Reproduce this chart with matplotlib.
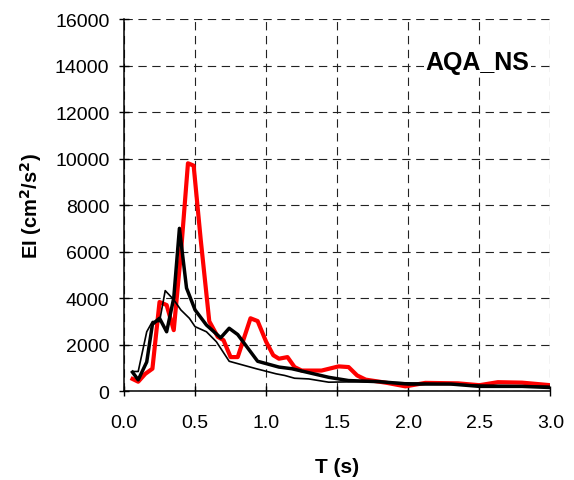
import matplotlib
matplotlib.use("Agg")
import matplotlib.pyplot as plt

plt.rcParams['font.family'] = ['Liberation Sans', 'DejaVu Sans']

# Red record
t_red = [0.06, 0.10, 0.15, 0.20, 0.25, 0.30, 0.35, 0.40, 0.45, 0.49, 0.54, 0.60, 0.66,
         0.70, 0.75, 0.80, 0.89, 0.94, 1.00, 1.05, 1.09, 1.15, 1.20, 1.25, 1.39, 1.51,
         1.58, 1.64, 1.70, 1.85, 1.98, 2.12, 2.35, 2.50, 2.63, 2.80, 3.00]
ei_red = [520, 400, 740, 960, 3830, 3700, 2620, 5900, 9800, 9700, 6500, 3000, 2330,
          2190, 1460, 1460, 3130, 3010, 2120, 1540, 1390, 1460, 1030, 880, 880, 1060,
          1030, 670, 490, 350, 200, 350, 330, 250, 380, 360, 250]

# Black thick record
t_thick = [0.06, 0.10, 0.16, 0.20, 0.25, 0.30, 0.35, 0.39, 0.44, 0.50, 0.58, 0.68,
           0.74, 0.80, 0.94, 1.09, 1.18, 1.44, 1.58, 1.80, 2.00, 2.30, 2.50, 2.80, 3.00]
ei_thick = [810, 480, 1250, 2870, 3130, 2550, 4000, 7000, 4430, 3490, 2840, 2290,
            2700, 2430, 1280, 1030, 960, 590, 450, 400, 300, 300, 200, 200, 150]

# Black thin record
t_thin = [0.06, 0.10, 0.16, 0.20, 0.25, 0.29, 0.35, 0.40, 0.46, 0.50, 0.58, 0.65,
          0.74, 0.93, 1.07, 1.13, 1.20, 1.30, 1.44, 1.65, 2.00, 2.50, 3.00]
ei_thin = [840, 840, 2550, 2990, 2990, 4320, 3930, 3490, 3130, 2770, 2550, 2120,
           1280, 960, 740, 670, 550, 520, 380, 400, 350, 250, 200]

fig = plt.figure(figsize=(5.74, 4.81), dpi=100)
ax = fig.add_axes([0.216, 0.185, 0.743, 0.773])

ax.plot(t_red, ei_red, color='#ff0000', lw=3.0, zorder=3)
ax.plot(t_thin, ei_thin, color='black', lw=1.2, zorder=4)
ax.plot(t_thick, ei_thick, color='black', lw=2.5, zorder=5)

ax.set_xlim(0, 3.0)
ax.set_ylim(0, 16000)
ax.set_xticks([0.0, 0.5, 1.0, 1.5, 2.0, 2.5, 3.0])
ax.set_xticklabels(['0.0', '0.5', '1.0', '1.5', '2.0', '2.5', '3.0'])
ax.set_yticks(range(0, 16001, 2000))
ax.grid(True, color='#222222', linestyle=(0, (7.5, 5)), lw=0.8)
ax.set_axisbelow(True)
for s in ['top', 'right']:
    ax.spines[s].set_visible(False)
ax.spines['left'].set_linewidth(1.1)
ax.spines['bottom'].set_linewidth(1.1)
ax.tick_params(axis='both', direction='inout', length=7, width=1, labelsize=14)
ax.tick_params(axis='x', pad=13)
ax.tick_params(axis='y', pad=7)

ax.set_xlabel('T (s)', fontsize=15, fontweight='bold', labelpad=19)
ax.set_ylabel('EI (cm$^{\\mathbf{2}}$/s$^{\\mathbf{2}}$)', fontsize=14.5, fontweight='bold', labelpad=8)

ax.text(2.85, 14150, 'AQA_NS', ha='right', va='center', fontsize=18, fontweight='bold',
        bbox=dict(facecolor='white', edgecolor='none', pad=1), zorder=6)

fig.savefig('out.png', dpi=100)
